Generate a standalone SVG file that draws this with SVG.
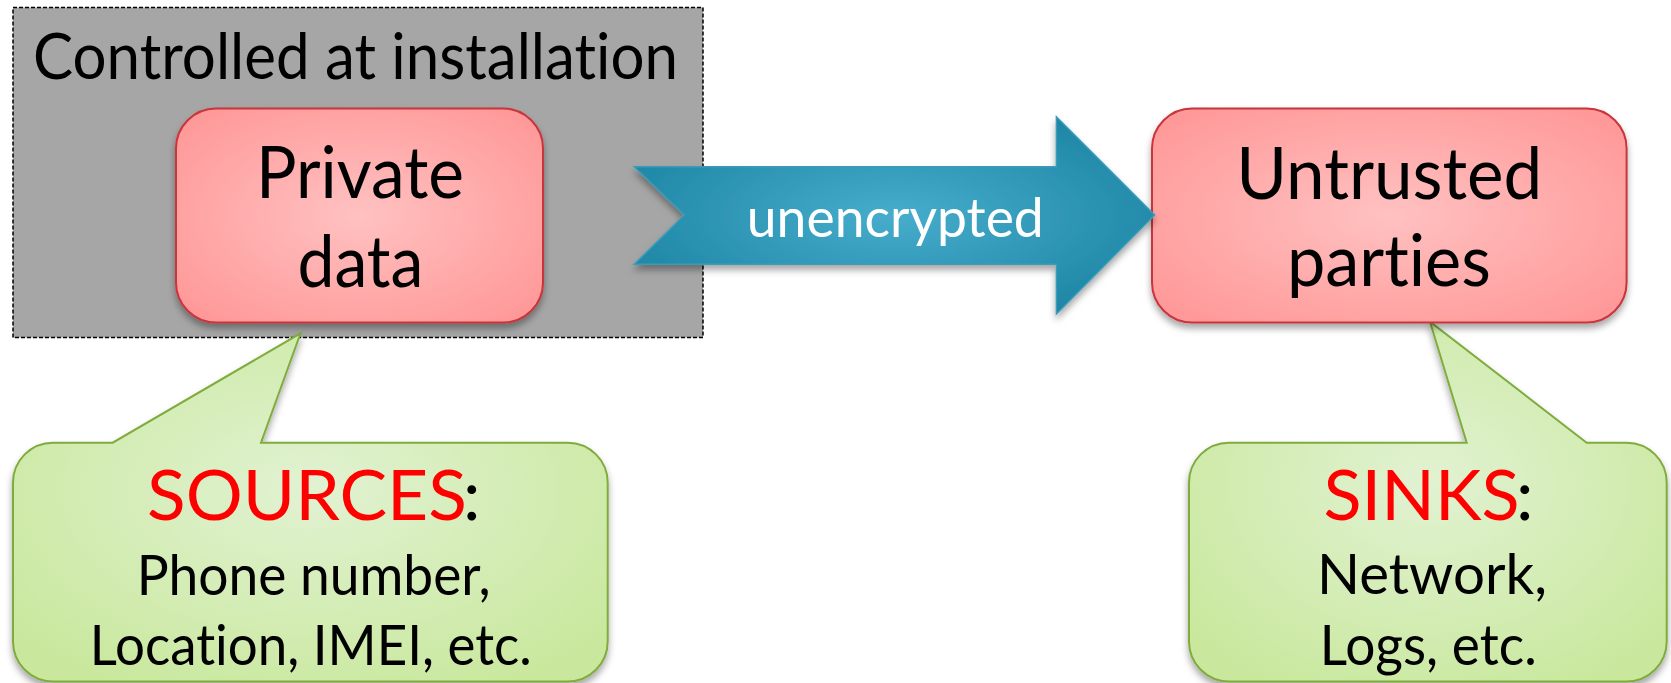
<svg xmlns="http://www.w3.org/2000/svg" width="1671" height="683" viewBox="0 0 1671 683">
  <defs>
    <radialGradient id="pinkFill" cx="50%" cy="50%" r="65%">
      <stop offset="0" stop-color="#ffc1c1"/>
      <stop offset="1" stop-color="#ff9898"/>
    </radialGradient>
    <radialGradient id="greenFill" cx="50%" cy="45%" r="65%">
      <stop offset="0" stop-color="#e1f2d2"/>
      <stop offset="1" stop-color="#c9e89d"/>
    </radialGradient>
    <radialGradient id="blueFill" cx="50%" cy="50%" r="60%">
      <stop offset="0" stop-color="#47adcd"/>
      <stop offset="1" stop-color="#1c84a3"/>
    </radialGradient>
    <filter id="shadow" x="-10%" y="-10%" width="120%" height="130%">
      <feDropShadow dx="0" dy="5" stdDeviation="3.5" flood-color="#000" flood-opacity="0.35"/>
    </filter>
  </defs>
  <style>
    text { font-family: "Lato", "Open Sans", "DejaVu Sans", sans-serif; text-anchor: middle; font-variant-ligatures: none; }
    .box { fill: url(#pinkFill); stroke: #c8343a; stroke-width: 2; filter: url(#shadow); }
    .callout { fill: url(#greenFill); stroke: #7fac3e; stroke-width: 2; filter: url(#shadow); }
    .title { font-size: 71px; fill: #000; }
    .head { font-size: 70px; fill: #000; text-anchor: start; }
    .body { font-size: 57px; fill: #000; }
    .red { fill: #ff0000; }
  </style>

  <rect width="1671" height="683" fill="#ffffff"/>

  <!-- installation boundary -->
  <g id="install-zone">
    <rect x="13" y="7.5" width="690" height="330" fill="#a6a6a6" stroke="#000" stroke-width="1.5" stroke-dasharray="4 2"/>
    <text x="355.5" y="79" font-size="63" textLength="645" lengthAdjust="spacingAndGlyphs">Controlled at installation</text>
  </g>

  <!-- sources callout -->
  <g id="sources">
    <path class="callout" d="M53,442.7 H112.7 L300.5,333.3 L261,442.7 H567.7 A40,40 0 0 1 607.7,482.7 V641.5 A40,40 0 0 1 567.7,681.5 H53 A40,40 0 0 1 13,641.5 V482.7 A40,40 0 0 1 53,442.7 Z"/>
    <text class="head red" x="147" y="520" textLength="320" lengthAdjust="spacingAndGlyphs">SOURCES</text>
    <text class="head" x="463" y="520">:</text>
    <text class="body" x="313.7" y="595" textLength="354" lengthAdjust="spacingAndGlyphs">Phone number,</text>
    <text class="body" x="310.8" y="665" textLength="442" lengthAdjust="spacingAndGlyphs">Location, IMEI, etc.</text>
  </g>

  <!-- sinks callout -->
  <g id="sinks">
    <path class="callout" d="M1229,442.7 H1466.7 L1430,321.7 L1586.7,442.7 H1626.7 A40,40 0 0 1 1666.7,482.7 V641.5 A40,40 0 0 1 1626.7,681.5 H1229 A40,40 0 0 1 1189,641.5 V482.7 A40,40 0 0 1 1229,442.7 Z"/>
    <text class="head red" x="1323.5" y="520" textLength="196" lengthAdjust="spacingAndGlyphs">SINKS</text>
    <text class="head" x="1516" y="520">:</text>
    <text class="body" x="1432" y="594" textLength="230" lengthAdjust="spacingAndGlyphs">Network,</text>
    <text class="body" x="1428.3" y="665" textLength="217" lengthAdjust="spacingAndGlyphs">Logs, etc.</text>
  </g>

  <!-- private data node -->
  <g id="private-data">
    <rect class="box" x="176" y="108.5" width="367" height="214" rx="40" ry="40"/>
    <text class="title" x="360" y="198" textLength="208" lengthAdjust="spacingAndGlyphs">Private</text>
    <text class="title" x="360.4" y="287" textLength="126" lengthAdjust="spacingAndGlyphs">data</text>
  </g>

  <!-- untrusted parties node -->
  <g id="untrusted-parties">
    <rect class="box" x="1152" y="108.5" width="474.6" height="214" rx="40" ry="40"/>
    <text class="title" x="1389.3" y="199" textLength="306" lengthAdjust="spacingAndGlyphs">Untrusted</text>
    <text class="title" x="1388.9" y="285.7" textLength="204" lengthAdjust="spacingAndGlyphs">parties</text>
  </g>

  <!-- data flow -->
  <g id="connectors">
    <path d="M634.3,166.7 L1056.4,166.7 L1056.4,116.7 L1154.6,215 L1056.4,314 L1056.4,264.3 L634.3,264.3 L684.3,215 Z" fill="url(#blueFill)" stroke="#3b9bb9" stroke-width="1.5" filter="url(#shadow)"/>
    <text x="895.3" y="236.7" font-size="55" fill="#ffffff" textLength="297" lengthAdjust="spacingAndGlyphs">unencrypted</text>
  </g>
</svg>
